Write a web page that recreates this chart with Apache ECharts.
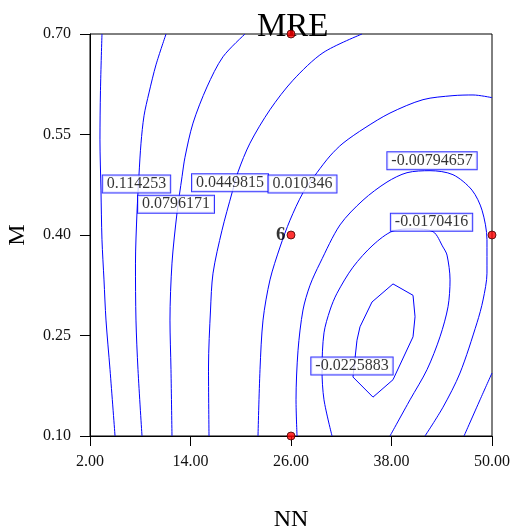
<!DOCTYPE html>
<html>
<head>
<meta charset="utf-8">
<title>MRE</title>
<script src="https://cdn.jsdelivr.net/npm/echarts@6/dist/echarts.min.js"></script>
<style>
  html, body { margin: 0; padding: 0; background: #fff; }
  #chart { width: 513px; height: 532px; }
</style>
</head>
<body>
<div id="chart"></div>
<script>
  // tick values
  var xTicks = [2, 14, 26, 38, 50];
  var yTicks = [0.10, 0.25, 0.40, 0.55, 0.70];

  // contour lines as [NN, M]
  var contour1 = [[3.43, 0.700], [3.25, 0.616], [3.19, 0.542], [3.31, 0.467], [3.43, 0.393], [3.67, 0.333], [3.91, 0.273], [4.39, 0.199], [4.99, 0.100]];
  var contour2 = [[11.08, 0.700], [9.88, 0.654], [9.04, 0.612], [8.45, 0.578], [8.09, 0.537], [7.85, 0.490], [7.61, 0.433], [7.43, 0.358], [7.49, 0.273], [7.73, 0.199], [8.21, 0.100]];
  var contour3 = [[20.51, 0.700], [17.88, 0.666], [15.97, 0.621], [14.30, 0.567], [13.34, 0.516], [12.99, 0.487], [12.39, 0.433], [11.79, 0.358], [11.55, 0.273], [11.67, 0.199], [11.79, 0.100]];
  var contour4 = [[34.48, 0.700], [29.82, 0.672], [26.24, 0.631], [23.49, 0.587], [21.10, 0.537], [19.67, 0.494], [18.96, 0.463], [17.76, 0.407], [16.69, 0.343], [16.39, 0.288], [16.15, 0.203], [16.21, 0.100]];
  var contour5 = [[50.00, 0.605], [47.73, 0.609], [45.34, 0.608], [41.76, 0.602], [37.82, 0.582], [34.84, 0.560], [32.21, 0.537], [30.66, 0.518], [29.10, 0.493], [27.43, 0.463], [25.88, 0.422], [24.69, 0.382], [23.49, 0.333], [22.66, 0.273], [22.30, 0.199], [22.06, 0.100]];
  var contour6 = [[26.72, 0.100], [26.60, 0.154], [26.84, 0.228], [27.43, 0.288], [28.27, 0.325], [29.46, 0.358], [31.85, 0.415], [34.60, 0.452], [37.46, 0.479], [39.85, 0.493], [42.60, 0.496], [45.34, 0.490], [47.61, 0.467], [48.81, 0.437], [49.40, 0.393], [49.40, 0.343], [48.93, 0.303], [48.21, 0.269], [46.18, 0.194], [44.15, 0.143], [42.00, 0.100]];
  var contour7 = [[30.90, 0.100], [29.94, 0.154], [29.70, 0.199], [29.94, 0.254], [30.66, 0.288], [31.49, 0.313], [33.40, 0.352], [35.79, 0.385], [38.18, 0.406], [40.57, 0.409], [42.96, 0.405], [44.15, 0.382], [44.63, 0.370], [44.99, 0.333], [44.75, 0.293], [43.79, 0.248], [42.24, 0.199], [40.21, 0.154], [37.82, 0.100]];
  var contour8 = [[38.18, 0.327], [40.57, 0.310], [40.81, 0.278], [40.57, 0.248], [38.18, 0.184], [35.79, 0.158], [33.40, 0.188], [33.88, 0.243], [34.24, 0.263], [35.67, 0.300], [38.18, 0.327]];
  var contour9 = [[50.00, 0.194], [48.57, 0.154], [46.66, 0.100]];

  // contour labels, centre of each box
  var labelText = ['0.114253', '0.0796171', '0.0449815', '0.010346', '-0.00794657', '-0.0170416', '-0.0225883'];
  var labelNN = [7.55, 12.27, 18.72, 27.37, 42.84, 42.78, 33.28];
  var labelM = [0.476, 0.446, 0.478, 0.476, 0.511, 0.419, 0.2045];

  // design points
  var designNN = [26, 26, 50, 26];
  var designM = [0.70, 0.40, 0.40, 0.10];
  var designRun = ['', '6', '', ''];

  var serif = 'Liberation Serif';
  var contours = [contour1, contour2, contour3, contour4, contour5, contour6, contour7, contour8, contour9];

  var series = [];
  contours.forEach(function (pts, i) {
    series.push({
      name: 'contour' + (i + 1),
      type: 'line',
      data: pts,
      symbol: 'none',
      smooth: i === 7 ? false : 0.3,
      silent: true,
      z: 2,
      lineStyle: { color: '#0000ff', width: 1 }
    });
  });

  series.push({
    name: 'labels',
    type: 'scatter',
    symbolSize: 1,
    itemStyle: { color: 'rgba(0,0,0,0)' },
    silent: true,
    z: 3,
    data: labelText.map(function (t, i) {
      return { name: t, value: [labelNN[i], labelM[i]] };
    }),
    label: {
      show: true,
      position: 'inside',
      formatter: '{b}',
      color: '#000',
      fontFamily: serif,
      fontSize: 16,
      lineHeight: 16,
      backgroundColor: '#fff',
      borderColor: '#0000ff',
      borderWidth: 1,
      padding: [1, 4, 0, 4]
    }
  });

  series.push({
    name: 'design',
    type: 'scatter',
    clip: false,
    symbolSize: 8,
    z: 10,
    itemStyle: { color: '#ff0000', borderColor: '#400000', borderWidth: 1 },
    data: designNN.map(function (v, i) {
      return { name: designRun[i], value: [v, designM[i]] };
    }),
    label: {
      show: true,
      position: 'left',
      distance: 1,
      formatter: '{b}',
      color: '#000',
      fontFamily: serif,
      fontWeight: 'bold',
      fontSize: 19
    }
  });

  var chart = echarts.init(document.getElementById('chart'));
  chart.setOption({
    animation: false,
    backgroundColor: '#fff',
    title: {
      text: 'MRE',
      left: 252,
      top: 6,
      z: 1,
      textStyle: { fontFamily: serif, fontSize: 33, fontWeight: 'normal', color: '#000' }
    },
    grid: {
      left: 90, right: 21, top: 34, bottom: 96,
      outerBoundsMode: 'none',
      containLabel: false,
      show: true, borderColor: '#000', borderWidth: 1
    },
    xAxis: {
      type: 'value',
      min: 2,
      max: 50,
      name: 'NN',
      nameLocation: 'middle',
      nameGap: 72,
      nameTextStyle: { fontFamily: serif, fontSize: 24, color: '#000' },
      axisLine: { lineStyle: { color: '#000', width: 1 } },
      axisTick: { length: 10, lineStyle: { color: '#000' }, customValues: xTicks },
      axisLabel: {
        customValues: xTicks, margin: 18,
        fontFamily: serif, fontSize: 16, color: '#111',
        formatter: function (v) { return v.toFixed(2); }
      },
      splitLine: { show: false }
    },
    yAxis: {
      type: 'value',
      min: 0.1,
      max: 0.7,
      name: 'M',
      nameLocation: 'middle',
      nameGap: 60,
      nameTextStyle: { fontFamily: serif, fontSize: 24, color: '#000' },
      axisLine: { lineStyle: { color: '#000', width: 1 } },
      axisTick: { length: 10, lineStyle: { color: '#000' }, customValues: yTicks },
      axisLabel: {
        customValues: yTicks, margin: 19,
        fontFamily: serif, fontSize: 16, color: '#111',
        formatter: function (v) { return v.toFixed(2); }
      },
      splitLine: { show: false }
    },
    series: series
  });
</script>
</body>
</html>
